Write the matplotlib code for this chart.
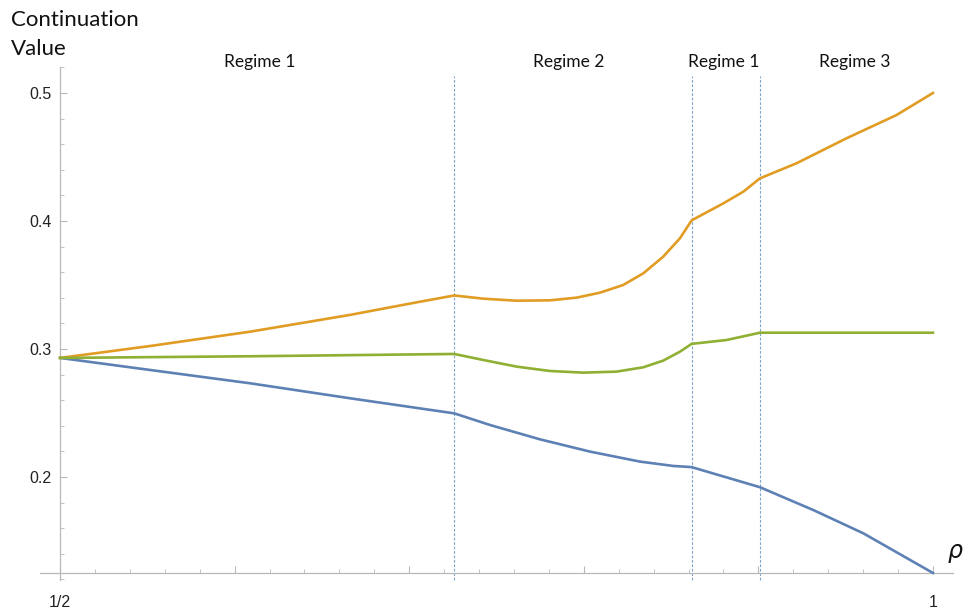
import matplotlib
matplotlib.use("Agg")
import matplotlib.pyplot as plt
from matplotlib.ticker import MultipleLocator, FixedLocator

# ---- data ----
rho_orange = [0.5, 0.5515, 0.6088, 0.666, 0.7045, 0.7258, 0.7424, 0.7616, 0.7806, 0.7959,
              0.8093, 0.8226, 0.8341, 0.8455, 0.8551, 0.8618, 0.8800, 0.8914, 0.9009,
              0.9219, 0.9505, 0.9792, 1.0]
val_orange = [0.293, 0.3023, 0.3135, 0.3266, 0.3365, 0.3418, 0.3393, 0.3377, 0.3380, 0.3401,
              0.344, 0.350, 0.3591, 0.3721, 0.3865, 0.4005, 0.4138, 0.4229, 0.4333,
              0.4451, 0.4646, 0.4828, 0.5]

rho_green = [0.5, 0.6088, 0.7258, 0.7424, 0.7616, 0.7806, 0.7997, 0.8188, 0.8341, 0.8455,
             0.8551, 0.8618, 0.8818, 0.9009, 1.0]
val_green = [0.293, 0.2943, 0.2961, 0.2914, 0.2862, 0.2828, 0.2815, 0.2823, 0.2857, 0.2909,
             0.2979, 0.3040, 0.307, 0.3127, 0.3127]

rho_blue = [0.5, 0.5515, 0.6088, 0.666, 0.7258, 0.7463, 0.7749, 0.8036, 0.8322, 0.8513,
            0.8618, 0.9009, 0.9314, 0.9601, 1.0]
val_blue = [0.293, 0.2836, 0.2732, 0.2615, 0.2497, 0.2406, 0.2294, 0.2198, 0.212, 0.2086,
            0.2077, 0.192, 0.1742, 0.156, 0.125]

regime_bounds = [0.7258, 0.8618, 0.9009]
regime_labels = ["Regime 1", "Regime 2", "Regime 1", "Regime 3"]
regime_label_x = [0.6143, 0.7915, 0.8803, 0.9553]

y_ticks = [0.2, 0.3, 0.4, 0.5]
x_tick_vals = [0.5, 1.0]
x_tick_labels = ["1/2", "1"]

# ---- figure ----
fig = plt.figure(figsize=(9.66, 6.11), dpi=100)
ax = fig.add_axes([40/966, 1-580/611, 913/966, 513/611])
ax.set_xlim(0.4885, 1.0115)
ax.set_ylim(0.1195, 0.5203)

c_blue = "#5E81B5"
c_orange = "#E19C24"
c_green = "#8FB032"
axis_c = "#b8b8b8"

for xb in regime_bounds:
    ax.plot([xb, xb], [0.1195, 0.513], color="#7FA4CC", lw=0.8,
            dashes=(2.5, 1.5), clip_on=False, zorder=1)

ax.plot(rho_blue, val_blue, color=c_blue, lw=1.9, zorder=3, solid_joinstyle="round")
ax.plot(rho_orange, val_orange, color=c_orange, lw=1.9, zorder=3, solid_joinstyle="round")
ax.plot(rho_green, val_green, color=c_green, lw=1.9, zorder=3, solid_joinstyle="round")

# spines
for s in ["top", "right"]:
    ax.spines[s].set_visible(False)
ax.spines["left"].set_position(("data", 0.5))
ax.spines["bottom"].set_position(("data", 0.125))
for s in ["left", "bottom"]:
    ax.spines[s].set_color(axis_c)
    ax.spines[s].set_linewidth(0.9)

ax.yaxis.set_major_locator(FixedLocator(y_ticks))
ax.yaxis.set_minor_locator(MultipleLocator(0.02))
ax.set_yticklabels([f"{v:.1f}" for v in y_ticks])

ax.xaxis.set_major_locator(MultipleLocator(0.1))
ax.xaxis.set_minor_locator(MultipleLocator(0.02))
ax.xaxis.set_major_formatter(plt.FuncFormatter(
    lambda v, p: x_tick_labels[x_tick_vals.index(round(v, 6))] if round(v, 6) in x_tick_vals else ""))

ax.tick_params(axis="both", which="major", direction="in", length=5, width=0.8,
               color=axis_c, labelsize=11.5, labelcolor="#222222")
ax.tick_params(axis="both", which="minor", direction="in", length=3, width=0.6, color=axis_c)
ax.tick_params(axis="x", which="major", pad=16)
ax.tick_params(axis="y", which="major", pad=6)
for lab in ax.get_xticklabels() + ax.get_yticklabels():
    lab.set_fontfamily("Liberation Sans")

# regime labels
for lbl, xl in zip(regime_labels, regime_label_x):
    ax.text(xl, 0.5242, lbl, ha="center", va="center", fontsize=12.5,
            family="Lato", color="#111111", clip_on=False)

# rho label
ax.text(1.0126, 0.1406, r"$\rho$", ha="center", va="center", fontsize=17,
        color="#111111", clip_on=False)

# y axis title
fig.text(11/966, 1-10/611, "Continuation", ha="left", va="top", fontsize=16,
         family="Lato", color="#111111")
fig.text(11/966, 1-39/611, "Value", ha="left", va="top", fontsize=16,
         family="Lato", color="#111111")

fig.savefig("out.png", dpi=100)
